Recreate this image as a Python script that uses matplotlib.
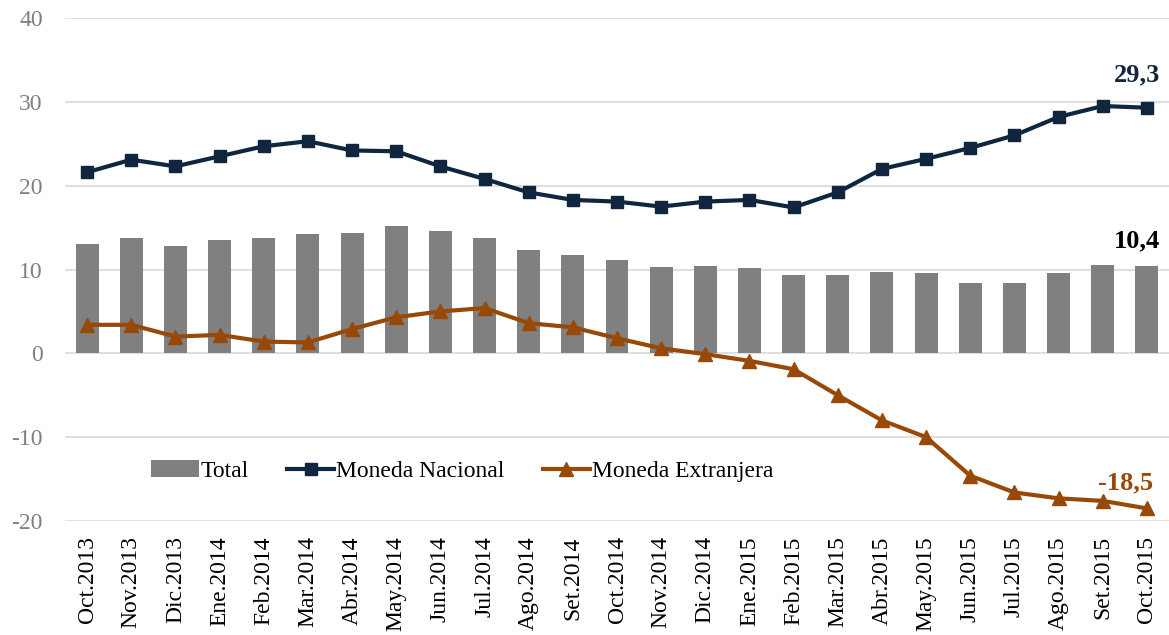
import matplotlib
matplotlib.use('Agg')
import matplotlib.pyplot as plt
import numpy as np

meses = ['Oct.2013', 'Nov.2013', 'Dic.2013', 'Ene.2014', 'Feb.2014', 'Mar.2014',
         'Abr.2014', 'May.2014', 'Jun.2014', 'Jul.2014', 'Ago.2014', 'Set.2014',
         'Oct.2014', 'Nov.2014', 'Dic.2014', 'Ene.2015', 'Feb.2015', 'Mar.2015',
         'Abr.2015', 'May.2015', 'Jun.2015', 'Jul.2015', 'Ago.2015', 'Set.2015',
         'Oct.2015']

total = [13.0, 13.8, 12.8, 13.5, 13.8, 14.2, 14.4, 15.2, 14.6, 13.8, 12.3, 11.7,
         11.1, 10.3, 10.4, 10.2, 9.4, 9.3, 9.7, 9.6, 8.4, 8.4, 9.6, 10.5, 10.4]
moneda_nacional = [21.6, 23.1, 22.3, 23.5, 24.7, 25.3, 24.2, 24.1, 22.3, 20.8, 19.2, 18.3,
                   18.1, 17.5, 18.1, 18.3, 17.4, 19.2, 22.0, 23.2, 24.5, 26.0, 28.2, 29.5,
                   29.3]
moneda_extranjera = [3.4, 3.4, 2.0, 2.2, 1.4, 1.3, 2.9, 4.3, 5.0, 5.4, 3.6, 3.1,
                     1.8, 0.6, -0.1, -0.9, -1.9, -5.0, -8.0, -10.0, -14.6, -16.6, -17.3, -17.6,
                     -18.5]

plt.rcParams['font.family'] = ['Liberation Serif']
plt.rcParams['axes.unicode_minus'] = False

navy = '#10263f'
brown = '#984807'
gray = '#808080'

fig = plt.figure(figsize=(11.69, 6.35), dpi=100)
ax = fig.add_axes([65 / 1169, 1 - 521 / 635, 1 - 65 / 1169, 503 / 635])

x = np.arange(len(meses))
b = ax.bar(x, total, width=0.52, color=gray, label='Total', zorder=2)
l1, = ax.plot(x, moneda_nacional, color=navy, lw=3, marker='s', ms=8,
              label='Moneda Nacional', zorder=3)
l2, = ax.plot(x, moneda_extranjera, color=brown, lw=3, marker='^', ms=10,
              label='Moneda Extranjera', zorder=3)

ax.set_xlim(-0.5, len(meses) - 0.5)
ax.set_ylim(-20, 40)
ax.set_yticks(range(-20, 41, 10))
ax.yaxis.grid(True, color='#d9d9d9', lw=1.2, zorder=0)
ax.set_axisbelow(True)
for s in ax.spines.values():
    s.set_visible(False)
ax.tick_params(length=0)
ax.tick_params(axis='y', labelcolor='#808080', labelsize=17, pad=16)
ax.tick_params(axis='x', pad=11)
ax.set_xticks(x)
ax.set_xticklabels(meses, rotation=90, fontsize=17, color='black')

ax.text(24.3, 32.5, '29,3', color=navy, fontsize=19, fontweight='bold', ha='right')
ax.text(24.3, 12.65, '10,4', color='black', fontsize=19, fontweight='bold', ha='right')
ax.text(24.14, -16.2, '-18,5', color=brown, fontsize=19, fontweight='bold', ha='right')

ax.legend([b, l1, l2], ['Total', 'Moneda Nacional', 'Moneda Extranjera'],
          loc='center', bbox_to_anchor=(0.36, 0.099), ncol=3, frameon=False,
          fontsize=17, handlelength=2.0, handletextpad=0.1, columnspacing=1.6)

fig.savefig('out.png', dpi=100)
